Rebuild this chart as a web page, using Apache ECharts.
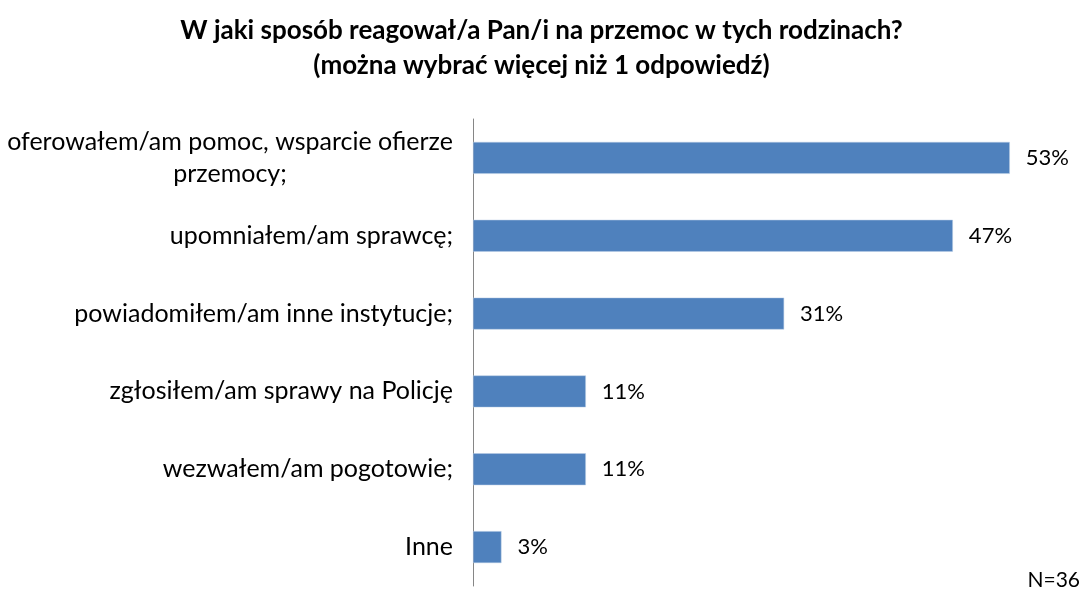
<!DOCTYPE html>
<html>
<head>
<meta charset="utf-8">
<script src="https://cdn.jsdelivr.net/npm/echarts@6/dist/echarts.min.js"></script>
<style>
  html, body { margin: 0; padding: 0; background: #fff; }
  #chart { width: 1083px; height: 596px; }
</style>
</head>
<body>
<div id="chart"></div>
<script>
// categories, top to bottom
const categories = [
  'oferowałem/am pomoc, wsparcie ofierze\nprzemocy;',
  'upomniałem/am sprawcę;',
  'powiadomiłem/am inne instytucje;',
  'zgłosiłem/am sprawy na Policję',
  'wezwałem/am pogotowie;',
  'Inne'
]
// share of respondents, %
const values = [52.8, 47.2, 30.6, 11.1, 11.1, 2.8]
const titleLines = [
  'W jaki sposób reagował/a Pan/i na przemoc w tych rodzinach?',
  '(można wybrać więcej niż 1 odpowiedź)'
]
const sampleNote = 'N=36'

const font = 'Lato'
const labelSize = 25

// width of the widest wrapped line, so the lines can be centred under each other
const ctx = document.createElement('canvas').getContext('2d')
ctx.font = labelSize + 'px ' + font
let wrapWidth = 0
categories.forEach(function (c) {
  if (c.indexOf('\n') < 0) return
  c.split('\n').forEach(function (s) {
    wrapWidth = Math.max(wrapWidth, Math.ceil(ctx.measureText(s).width))
  })
})

const chart = echarts.init(document.getElementById('chart'))

chart.setOption({
  animation: false,
  title: {
    text: titleLines.join('\n'),
    left: 'center',
    top: 8,
    textStyle: {
      fontFamily: font,
      fontWeight: 'bold',
      fontSize: 26,
      lineHeight: 35,
      color: '#000'
    }
  },
  graphic: [{
    type: 'text',
    right: 3,
    top: 570,
    style: {
      text: sampleNote,
      font: '21px ' + font,
      fill: '#000'
    }
  }],
  grid: {
    left: 473,
    right: 0,
    top: 119,
    bottom: 10
  },
  xAxis: {
    type: 'value',
    min: 0,
    max: 60,
    show: false,
    splitLine: { show: false }
  },
  yAxis: {
    type: 'category',
    inverse: true,
    data: categories,
    axisTick: { show: false },
    axisLine: { lineStyle: { color: '#868686', width: 1 } },
    axisLabel: {
      margin: 20,
      fontFamily: font,
      fontSize: labelSize,
      color: '#000',
      lineHeight: 32,
      formatter: function (v) {
        if (v.indexOf('\n') < 0) return v
        return v.split('\n').map(function (s) { return '{w|' + s + '}' }).join('\n')
      },
      rich: {
        w: {
          width: wrapWidth,
          align: 'center',
          fontFamily: font,
          fontSize: labelSize,
          lineHeight: 32,
          color: '#000'
        }
      }
    }
  },
  series: [{
    type: 'bar',
    data: values,
    barWidth: '41%',
    itemStyle: {
      color: '#4F81BD',
      borderColor: '#B9CDE5',
      borderWidth: 0.5
    },
    label: {
      show: true,
      position: 'right',
      distance: 16,
      fontFamily: font,
      fontSize: 22,
      color: '#000',
      formatter: function (p) { return Math.round(p.value) + '%' }
    }
  }]
})
</script>
</body>
</html>
